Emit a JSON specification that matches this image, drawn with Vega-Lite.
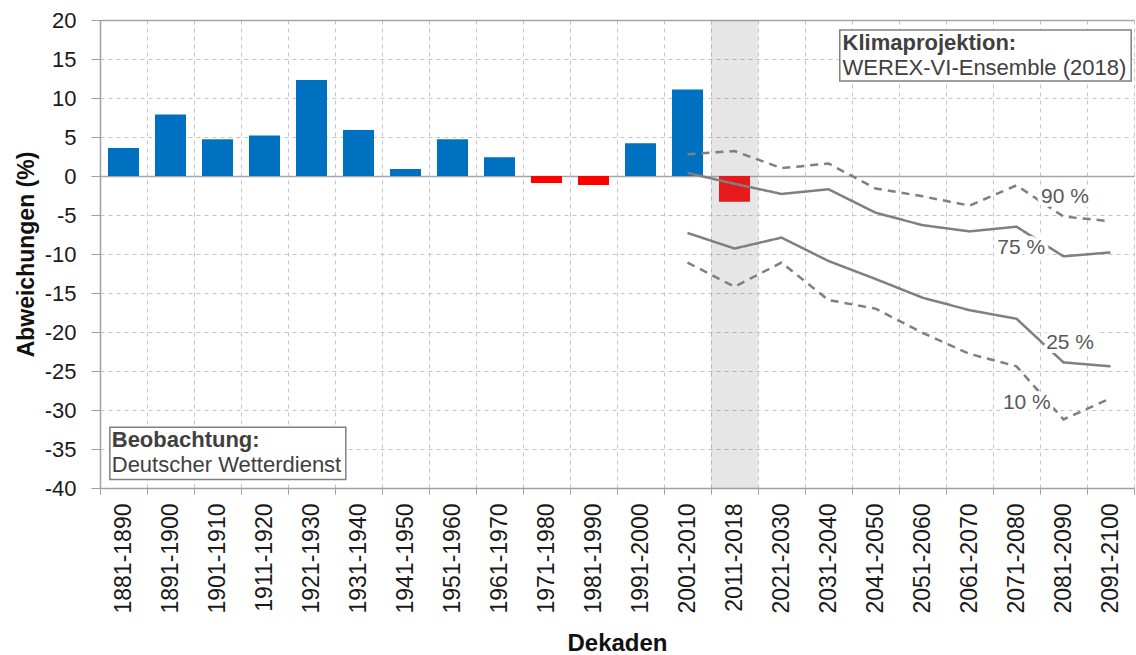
{
  "$schema": "https://vega.github.io/schema/vega-lite/v6.json",
  "width": 1034,
  "height": 468,
  "autosize": {"type": "none"},
  "padding": {"left": 100, "top": 20, "right": 2, "bottom": 167},
  "config": {"font": "Liberation Sans", "view": {"stroke": null}},
  "datasets": {
    "obs": [
      {"period": "1881-1890", "value": 3.6},
      {"period": "1891-1900", "value": 7.9},
      {"period": "1901-1910", "value": 4.7},
      {"period": "1911-1920", "value": 5.2},
      {"period": "1921-1930", "value": 12.3},
      {"period": "1931-1940", "value": 5.9},
      {"period": "1941-1950", "value": 0.9},
      {"period": "1951-1960", "value": 4.7},
      {"period": "1961-1970", "value": 2.4},
      {"period": "1971-1980", "value": -0.9},
      {"period": "1981-1990", "value": -1.15},
      {"period": "1991-2000", "value": 4.2},
      {"period": "2001-2010", "value": 11.1},
      {"period": "2011-2018", "value": -3.3}
    ],
    "proj": [
      {"period": "2001-2010", "q": "90 %", "value": 2.8},
      {"period": "2011-2018", "q": "90 %", "value": 3.2},
      {"period": "2021-2030", "q": "90 %", "value": 1.0},
      {"period": "2031-2040", "q": "90 %", "value": 1.6},
      {"period": "2041-2050", "q": "90 %", "value": -1.6},
      {"period": "2051-2060", "q": "90 %", "value": -2.6},
      {"period": "2061-2070", "q": "90 %", "value": -3.8},
      {"period": "2071-2080", "q": "90 %", "value": -1.2},
      {"period": "2081-2090", "q": "90 %", "value": -5.2},
      {"period": "2091-2100", "q": "90 %", "value": -5.8},
      {"period": "2001-2010", "q": "75 %", "value": 0.4},
      {"period": "2011-2018", "q": "75 %", "value": -1.0},
      {"period": "2021-2030", "q": "75 %", "value": -2.3},
      {"period": "2031-2040", "q": "75 %", "value": -1.7},
      {"period": "2041-2050", "q": "75 %", "value": -4.7},
      {"period": "2051-2060", "q": "75 %", "value": -6.3},
      {"period": "2061-2070", "q": "75 %", "value": -7.1},
      {"period": "2071-2080", "q": "75 %", "value": -6.5},
      {"period": "2081-2090", "q": "75 %", "value": -10.3},
      {"period": "2091-2100", "q": "75 %", "value": -9.8},
      {"period": "2001-2010", "q": "25 %", "value": -7.3},
      {"period": "2011-2018", "q": "25 %", "value": -9.3},
      {"period": "2021-2030", "q": "25 %", "value": -7.9},
      {"period": "2031-2040", "q": "25 %", "value": -10.9},
      {"period": "2041-2050", "q": "25 %", "value": -13.2},
      {"period": "2051-2060", "q": "25 %", "value": -15.6},
      {"period": "2061-2070", "q": "25 %", "value": -17.2},
      {"period": "2071-2080", "q": "25 %", "value": -18.3},
      {"period": "2081-2090", "q": "25 %", "value": -23.9},
      {"period": "2091-2100", "q": "25 %", "value": -24.4},
      {"period": "2001-2010", "q": "10 %", "value": -11.1},
      {"period": "2011-2018", "q": "10 %", "value": -14.2},
      {"period": "2021-2030", "q": "10 %", "value": -11.1},
      {"period": "2031-2040", "q": "10 %", "value": -15.9},
      {"period": "2041-2050", "q": "10 %", "value": -17.0},
      {"period": "2051-2060", "q": "10 %", "value": -20.1},
      {"period": "2061-2070", "q": "10 %", "value": -22.8},
      {"period": "2071-2080", "q": "10 %", "value": -24.4},
      {"period": "2081-2090", "q": "10 %", "value": -31.2},
      {"period": "2091-2100", "q": "10 %", "value": -28.5}
    ],
    "shade": [{"period": "2011-2018", "top": 20, "bottom": -40}],
    "boxes": [
      {"x1": 15.74, "x2": 21.94, "y1": 18.72, "y2": 12.18},
      {"x1": 0.21, "x2": 5.23, "y1": -32.2, "y2": -38.9}
    ],
    "notes": [
      {"x": 15.8, "y": 17.0, "text": "Klimaprojektion:", "kind": "head"},
      {"x": 15.8, "y": 13.8, "text": "WEREX-VI-Ensemble (2018)", "kind": "body"},
      {"x": 0.25, "y": -33.9, "text": "Beobachtung:", "kind": "head"},
      {"x": 0.25, "y": -37.1, "text": "Deutscher Wetterdienst", "kind": "body"}
    ],
    "qlabels": [
      {"x": 20.53, "y": -2.7, "text": "90 %"},
      {"x": 19.6, "y": -9.2, "text": "75 %"},
      {"x": 20.64, "y": -21.4, "text": "25 %"},
      {"x": 19.72, "y": -29.1, "text": "10 %"}
    ]
  },
  "layer": [
    {
      "encoding": {
        "x": {
          "field": "period",
          "type": "nominal",
          "scale": {
            "domain": ["1881-1890","1891-1900","1901-1910","1911-1920","1921-1930","1931-1940","1941-1950","1951-1960","1961-1970","1971-1980","1981-1990","1991-2000","2001-2010","2011-2018","2021-2030","2031-2040","2041-2050","2051-2060","2061-2070","2071-2080","2081-2090","2091-2100"],
            "paddingInner": 0,
            "paddingOuter": 0
          },
          "axis": {
            "title": "Dekaden",
            "titleFontSize": 24,
            "titleFontWeight": "bold",
            "titleColor": "#111111",
            "titlePadding": 19,
            "labelAngle": -90,
            "labelAlign": "right",
            "labelBaseline": "middle",
            "labelFontSize": 23,
            "labelColor": "#1a1a1a",
            "labelPadding": 9,
            "tickBand": "extent",
            "tickSize": 6,
            "tickColor": "#a0a0a0",
            "domainColor": "#a0a0a0",
            "domainWidth": 1.5,
            "grid": true,
            "gridDash": [4, 4],
            "gridColor": "#c4c4c4",
            "labelOverlap": false
          }
        },
        "y": {
          "field": "value",
          "type": "quantitative",
          "scale": {"domain": [-40, 20], "nice": false, "zero": false},
          "axis": {
            "title": "Abweichungen (%)",
            "titleFontSize": 23,
            "titleFontWeight": "bold",
            "titleColor": "#111111",
            "titlePadding": 6,
            "values": [-40,-35,-30,-25,-20,-15,-10,-5,0,5,10,15,20],
            "labelExpr": "'' + datum.value",
            "labelOverlap": false,
            "labelFlush": false,
            "labelFontSize": 22,
            "labelColor": "#1a1a1a",
            "labelPadding": 15,
            "tickSize": 9,
            "tickColor": "#a0a0a0",
            "domainColor": "#a0a0a0",
            "domainWidth": 1.5,
            "grid": true,
            "gridColor": {"condition": {"test": "datum.value === 0 || datum.value === 20", "value": "#a6a6a6"}, "value": "#c4c4c4"},
            "gridDash": {"condition": {"test": "datum.value === 0 || datum.value === 20", "value": []}, "value": [4, 4]},
            "gridWidth": {"condition": {"test": "datum.value === 0 || datum.value === 20", "value": 1.5}, "value": 1}
          }
        }
      },
      "layer": [
        {
          "data": {"name": "obs"},
          "mark": {"type": "bar", "width": {"band": 0.66}},
          "encoding": {
            "color": {
              "condition": {"test": "datum.value < 0", "value": "#ff0000"},
              "value": "#0070c0"
            }
          }
        },
        {
          "data": {"name": "shade"},
          "mark": {"type": "bar", "width": {"band": 1}, "color": "#808080", "opacity": 0.2},
          "encoding": {
            "y": {"field": "top", "type": "quantitative"},
            "y2": {"field": "bottom"}
          }
        },
        {
          "data": {"name": "proj"},
          "mark": {"type": "line", "color": "#7f7f7f", "strokeWidth": 2.5},
          "encoding": {
            "detail": {"field": "q"},
            "strokeDash": {
              "field": "q",
              "type": "nominal",
              "scale": {"domain": ["90 %", "75 %", "25 %", "10 %"], "range": [[8, 6], [1, 0], [1, 0], [8, 6]]},
              "legend": null
            }
          }
        }
      ]
    },
    {
      "layer": [
        {
          "data": {"name": "boxes"},
          "mark": {"type": "rect", "fill": "white", "stroke": "#808080", "strokeWidth": 1.5},
          "encoding": {
            "x": {"field": "x1", "type": "quantitative", "scale": {"domain": [0, 22], "nice": false, "zero": false}, "axis": null},
            "x2": {"field": "x2"},
            "y": {"field": "y1", "type": "quantitative", "scale": {"domain": [-40, 20], "nice": false, "zero": false}, "axis": null},
            "y2": {"field": "y2"}
          }
        },
        {
          "data": {"name": "notes"},
          "transform": [{"filter": "datum.kind === 'head'"}],
          "mark": {"type": "text", "align": "left", "baseline": "middle", "fontSize": 22, "fontWeight": "bold", "color": "#404040"},
          "encoding": {
            "x": {"field": "x", "type": "quantitative"},
            "y": {"field": "y", "type": "quantitative"},
            "text": {"field": "text"}
          }
        },
        {
          "data": {"name": "notes"},
          "transform": [{"filter": "datum.kind === 'body'"}],
          "mark": {"type": "text", "align": "left", "baseline": "middle", "fontSize": 22, "color": "#404040"},
          "encoding": {
            "x": {"field": "x", "type": "quantitative"},
            "y": {"field": "y", "type": "quantitative"},
            "text": {"field": "text"}
          }
        },
        {
          "data": {"name": "qlabels"},
          "mark": {"type": "text", "align": "center", "baseline": "middle", "fontSize": 21, "fill": "white", "stroke": "white", "strokeWidth": 8},
          "encoding": {
            "x": {"field": "x", "type": "quantitative"},
            "y": {"field": "y", "type": "quantitative"},
            "text": {"field": "text"}
          }
        },
        {
          "data": {"name": "qlabels"},
          "mark": {"type": "text", "align": "center", "baseline": "middle", "fontSize": 21, "color": "#595959"},
          "encoding": {
            "x": {"field": "x", "type": "quantitative"},
            "y": {"field": "y", "type": "quantitative"},
            "text": {"field": "text"}
          }
        }
      ]
    }
  ],
  "resolve": {"scale": {"x": "independent", "y": "independent"}}
}
